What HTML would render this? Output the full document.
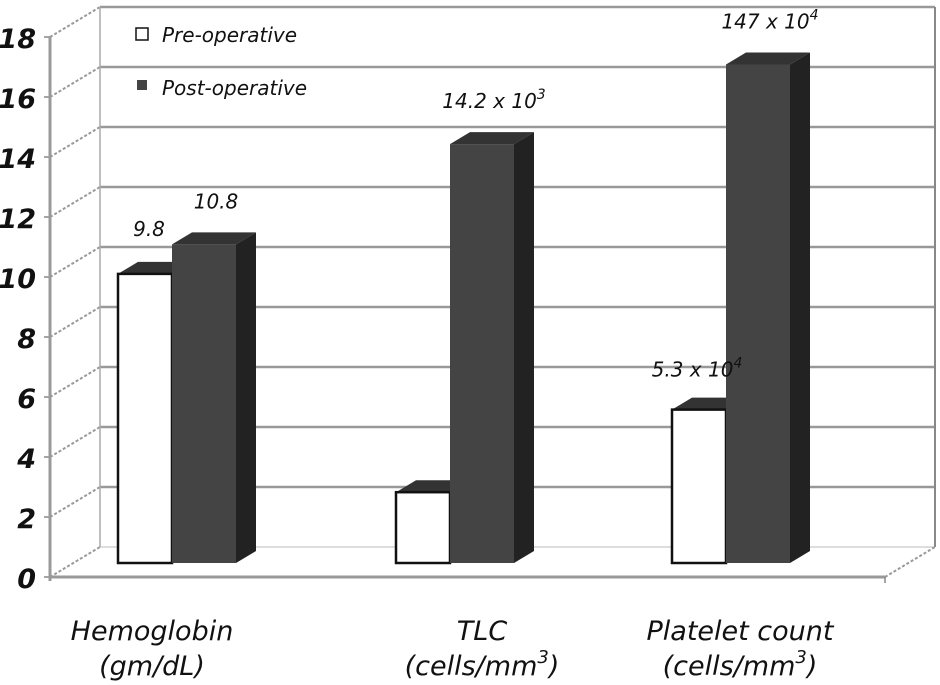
<!DOCTYPE html>
<html><head><meta charset="utf-8"><style>
body{margin:0;background:#fff}
svg{display:block}
text{font-family:"DejaVu Sans","Liberation Sans",sans-serif;font-style:italic}
</style></head><body>
<svg id="chart" width="940" height="685" viewBox="0 0 940 685" xmlns="http://www.w3.org/2000/svg"></svg>
<script>
const categories = ["Hemoglobin", "TLC", "Platelet count"];
const categoryUnits = ["(gm/dL)", "(cells/mm", "(cells/mm"];
const preValues = [9.8, 2.4, 5.2];
const postValues = [10.8, 14.2, 16.9];
const preLabels = ["9.8", "", "5.3 x 10"];
const preLabelSup = ["", "", "4"];
const postLabels = ["10.8", "14.2 x 10", "147 x 10"];
const postLabelSup = ["", "3", "4"];
const yTicks = [0, 2, 4, 6, 8, 10, 12, 14, 16, 18];

const svg = document.getElementById('chart');
const NS = 'http://www.w3.org/2000/svg';
function mk(tag, attrs, parent) {
  const e = document.createElementNS(NS, tag);
  for (const k in attrs) e.setAttribute(k, attrs[k]);
  (parent || svg).appendChild(e);
  return e;
}
const frontX = 50, frontY0 = 577, unit = 30, dx = 50, dy = 30, backRight = 935;
const yFront = v => frontY0 - v * unit;
const barBase = 563, barUnit = 29.5;
const yBar = v => barBase - v * barUnit;
const barStart = [118, 396, 672];
const labelCenter = [152, 482, 740];
const xCat = i => barStart[i];

yTicks.forEach(t => {
  const y = yFront(t);
  const g = mk('line', {x1: frontX, y1: y, x2: frontX + dx, y2: y - dy, stroke: '#999', 'stroke-width': 2, 'stroke-dasharray': '3 2'});
  
  
  if (t > 0) {
    const h = mk('line', {x1: frontX + dx, y1: y - dy, x2: backRight, y2: y - dy, stroke: '#999', 'stroke-width': 2.5});
    
    
  }
  const tk = mk('line', {x1: frontX - 6, y1: y, x2: frontX, y2: y, stroke: '#888', 'stroke-width': 1.5});
  
  
  const lb = mk('text', {x: 36, y: y + 11, 'text-anchor': 'end', 'font-size': 27, 'font-weight': 'bold', fill: '#111'});
  lb.textContent = t;
  
  
});
mk('line', {x1: frontX + dx, y1: yFront(18) - dy, x2: frontX + dx, y2: frontY0 - dy, stroke: '#aaa', 'stroke-width': 1.5});
mk('line', {x1: backRight, y1: yFront(18) - dy, x2: backRight, y2: frontY0 - dy, stroke: '#888', 'stroke-width': 2});
mk('line', {x1: frontX + dx, y1: frontY0 - dy, x2: backRight, y2: frontY0 - dy, stroke: '#bbb', 'stroke-width': 1});
mk('line', {x1: backRight - dx, y1: frontY0, x2: backRight, y2: frontY0 - dy, stroke: '#999', 'stroke-width': 2, 'stroke-dasharray': '3 2'});
mk('line', {x1: frontX, y1: frontY0, x2: backRight - dx, y2: frontY0, stroke: '#999', 'stroke-width': 3});
mk('line', {x1: backRight - dx, y1: frontY0, x2: backRight - dx, y2: frontY0 + 6, stroke: '#888', 'stroke-width': 1.5});
const ax = mk('line', {x1: frontX, y1: yFront(18), x2: frontX, y2: frontY0 + 4, stroke: '#999', 'stroke-width': 3});



const preW = 54, postW = 64, sd = 20, su = 12;
function bar(x, w, v, fill, name) {
  const top = yBar(v);
  const g = mk('g', {});
  
  
  mk('polygon', {points: `${x},${top} ${x+sd},${top-su} ${x+w+sd},${top-su} ${x+w},${top}`, fill: '#333'}, g);
  mk('polygon', {points: `${x+w},${top} ${x+w+sd},${top-su} ${x+w+sd},${barBase-su} ${x+w},${barBase}`, fill: '#222'}, g);
  mk('rect', {x: x, y: top, width: w, height: barBase - top, fill: fill, stroke: '#111', 'stroke-width': fill === '#fff' ? 2.5 : 0}, g);
}
function label(x, y, txt, sup, name) {
  if (!txt) return;
  const t = mk('text', {x: x, y: y, 'text-anchor': 'middle', 'font-size': 20, fill: '#111'});
  t.textContent = txt;
  if (sup) { const s = mk('tspan', {dy: -9, 'font-size': 14}, t); s.textContent = sup; }
  
  
}
categories.forEach((c, i) => {
  const preX = xCat(i), postX = preX + preW;
  bar(preX, preW, preValues[i], '#fff', 'bar-pre-' + i);
  bar(postX, postW, postValues[i], '#444', 'bar-post-' + i);
  label(postX + postW / 2 + 12, yBar(postValues[i]) - 36, postLabels[i], postLabelSup[i], 'value-label-post');
  label(preX + preW / 2 + 4 - (i === 2 ? 6 : 0), yBar(preValues[i]) - 38 + (i === 2 ? 5 : 0), preLabels[i], preLabelSup[i], 'value-label-pre');
  const cx = labelCenter[i];
  const t1 = mk('text', {x: cx, y: 640, 'text-anchor': 'middle', 'font-size': 27, fill: '#111'});
  t1.textContent = c;
  
  
  const t2 = mk('text', {x: cx, y: 675, 'text-anchor': 'middle', 'font-size': 27, fill: '#111'});
  t2.textContent = categoryUnits[i];
  if (i > 0) { const s = mk('tspan', {dy: -12, 'font-size': 18}, t2); s.textContent = '3'; const s2 = mk('tspan', {dy: 12}, t2); s2.textContent = ')'; }
  
  
});

const lg = mk('g', {});


mk('rect', {x: 136, y: 28, width: 12, height: 12, fill: '#fff', stroke: '#111', 'stroke-width': 1.5}, lg);
const l1 = mk('text', {x: 162, y: 42, 'font-size': 20, fill: '#111'}, lg); l1.textContent = 'Pre-operative';
mk('rect', {x: 137, y: 80, width: 10, height: 10, fill: '#444'}, lg);
const l2 = mk('text', {x: 162, y: 95, 'font-size': 20, fill: '#111'}, lg); l2.textContent = 'Post-operative';
</script>
</body></html>
